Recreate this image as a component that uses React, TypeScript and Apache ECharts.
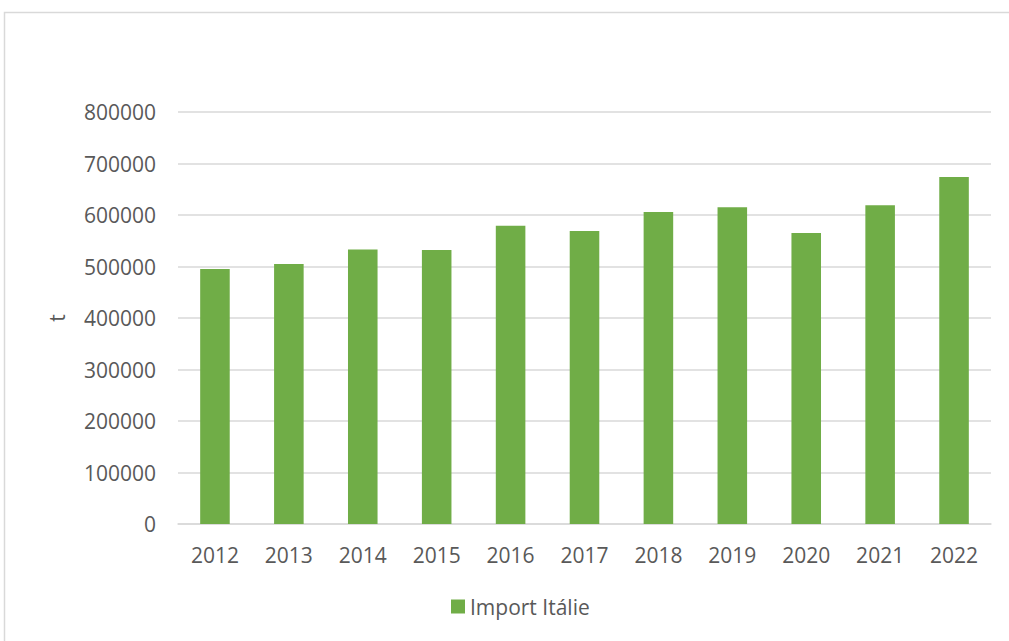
import React, { useEffect, useRef } from "react";
import * as echarts from "echarts";

const years = ["2012", "2013", "2014", "2015", "2016", "2017", "2018", "2019", "2020", "2021", "2022"];
const importItalie = [495000, 505000, 533000, 532000, 579000, 569000, 606000, 615000, 565000, 619000, 674000];
const seriesName = "Import Itálie";
const yAxisName = "t";

export default function App() {
  const ref = useRef<HTMLDivElement>(null);
  useEffect(() => {
    document.body.style.margin = "0";
    const chart = echarts.init(ref.current!, null, { renderer: "svg" });
    const font = "'Open Sans', 'Noto Sans', sans-serif";
    chart.setOption({
      animation: false,
      textStyle: { fontFamily: font },
      graphic: [
        {
          type: "rect",
          shape: { x: 4.5, y: 12.5, width: 1020, height: 650 },
          style: { fill: "none", stroke: "#d9d9d9", lineWidth: 1.5 },
          silent: true,
        },
      ],
      grid: { left: 178, right: 18, top: 112, bottom: 117 },
      xAxis: {
        type: "category",
        data: years,
        axisTick: { show: false },
        axisLine: { lineStyle: { color: "#d9d9d9", width: 1.5 } },
        axisLabel: { color: "#595959", fontSize: 21, margin: 20, fontFamily: font },
      },
      yAxis: {
        type: "value",
        min: 0,
        max: 800000,
        interval: 100000,
        name: yAxisName,
        nameLocation: "middle",
        nameGap: 111,
        nameRotate: 90,
        nameTextStyle: { color: "#595959", fontSize: 21, fontFamily: font },
        axisLine: { show: false },
        axisTick: { show: false },
        axisLabel: {
          color: "#595959",
          fontSize: 21,
          margin: 22,
          fontFamily: font,
          formatter: (v: number) => String(v),
        },
        splitLine: { lineStyle: { color: "#d9d9d9", width: 1.5 } },
      },
      legend: {
        bottom: 19,
        left: 446,
        itemWidth: 14,
        itemHeight: 14,
        itemGap: 6,
        icon: "rect",
        textStyle: { color: "#595959", fontSize: 21, fontFamily: font },
        data: [seriesName],
      },
      series: [
        {
          name: seriesName,
          type: "bar",
          data: importItalie,
          barWidth: "40%",
          itemStyle: { color: "#70ad47" },
        },
      ],
    });
    return () => chart.dispose();
  }, []);
  return <div ref={ref} style={{ width: 1009, height: 641 }} />;
}
